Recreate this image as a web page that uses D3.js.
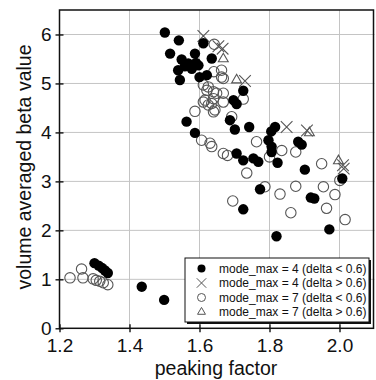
<!DOCTYPE html>
<html><head><meta charset="utf-8">
<script src="https://cdn.jsdelivr.net/npm/d3@7"></script>
<style>body{margin:0;background:#fff}svg{display:block;font-family:"Liberation Sans",Helvetica,Arial,sans-serif}</style>
</head><body><svg id="c" width="376" height="380"></svg>
<script>
const xTicks = [1.2, 1.4, 1.6, 1.8, 2.0];
const yTicks = [0, 1, 2, 3, 4, 5, 6];
const xTickLabels = ["1.2", "1.4", "1.6", "1.8", "2.0"];
const xLabel = "peaking factor";
const yLabel = "volume averaged beta value";
const legendLabels = ["mode_max = 4 (delta < 0.6)", "mode_max = 4 (delta > 0.6)", "mode_max = 7 (delta < 0.6)", "mode_max = 7 (delta > 0.6)"];

// mode_max = 4, delta < 0.6 (filled circles)
const m4Low = [
  [1.501,6.04],[1.541,5.88],[1.516,5.61],[1.549,5.49],[1.539,5.27],[1.544,5.07],[1.568,5.41],[1.587,5.61],
  [1.611,5.82],[1.597,5.37],[1.621,5.17],[1.635,5.51],[1.578,5.30],[1.558,5.35],[1.600,5.13],[1.590,5.42],
  [1.725,4.85],[1.697,4.66],[1.706,4.58],[1.687,4.25],[1.701,4.06],[1.742,4.11],[1.563,4.22],[1.587,3.99],
  [1.706,3.57],[1.725,3.43],[1.754,3.47],[1.768,3.40],
  [1.816,4.11],[1.805,4.02],[1.797,3.84],[1.806,3.71],[1.806,3.60],[1.823,3.38],[1.882,3.81],[1.892,3.75],
  [1.901,3.24],[1.918,2.67],[1.928,2.65],[2.008,3.06],[1.773,2.84],[1.725,2.43],[1.820,1.88],[1.971,2.02],
  [1.300,1.33],[1.312,1.28],[1.322,1.23],[1.330,1.18],[1.338,1.13],[1.435,0.85],[1.499,0.58]
];
// mode_max = 4, delta > 0.6 (crosses)
const m4High = [
  [1.611,5.97],[1.654,5.76],[1.666,5.71],[1.730,5.05],[1.849,4.11],[1.907,4.04],[2.010,3.33],[2.012,3.26]
];
// mode_max = 7, delta < 0.6 (open circles)
const m7Low = [
  [1.642,5.80],[1.663,5.27],[1.663,5.13],[1.641,5.24],[1.625,4.93],[1.640,4.83],[1.668,5.10],[1.611,4.97],
  [1.621,4.86],[1.649,4.80],[1.668,4.80],[1.616,4.66],[1.640,4.69],[1.635,4.59],[1.644,4.46],[1.611,4.62],
  [1.668,4.62],[1.625,4.56],[1.640,4.42],[1.587,4.43],[1.692,4.32],[1.725,4.68],
  [1.606,3.84],[1.630,3.78],[1.635,3.71],[1.668,3.57],[1.680,3.53],[1.735,3.17],[1.763,3.81],[1.800,3.50],
  [1.835,3.63],[1.875,3.60],[1.949,3.36],[1.787,2.89],[1.830,2.74],[1.875,2.90],[1.954,2.89],[1.987,2.73],
  [1.963,2.45],[2.016,2.22],[1.861,2.36],[1.695,2.60],[2.001,3.02],
  [1.230,1.03],[1.263,1.21],[1.267,1.03],[1.296,1.01],[1.305,0.98],[1.315,0.96],[1.325,0.93],[1.338,0.89]
];
// mode_max = 7, delta > 0.6 (triangles)
const m7High = [
  [1.668,5.50],[1.706,5.07],[1.914,3.99],[1.997,3.42]
];

const svg = d3.select("#c");
const x = d3.scaleLinear().domain([1.2, 2.1]).range([59.5, 374.5]);
const y = d3.scaleLinear().domain([0, 6.5]).range([328.3, 10]);
const [x0, x1] = x.range(), [y0, y1] = y.range();

// grid
svg.append("g").selectAll("line").data(xTicks.slice(1)).join("line")
  .attr("x1", d => x(d)).attr("x2", d => x(d)).attr("y1", y0).attr("y2", y1)
  .attr("stroke", "#c4c4c4").attr("stroke-width", 1);
svg.append("g").selectAll("line").data(yTicks.slice(1)).join("line")
  .attr("y1", d => y(d)).attr("y2", d => y(d)).attr("x1", x0).attr("x2", x1)
  .attr("stroke", "#c4c4c4").attr("stroke-width", 1);

// axes
const xAxis = d3.axisBottom(x).tickValues(xTicks).tickFormat((d, i) => xTickLabels[i]).tickSizeInner(4).tickSizeOuter(0).tickPadding(6);
const gx = svg.append("g").attr("transform", `translate(0,${y0})`).call(xAxis);
gx.select(".domain").remove();
gx.selectAll(".tick line").attr("y1", -4).attr("stroke", "#000").attr("stroke-width", 1.3);
gx.selectAll(".tick text").attr("font-size", 19).attr("fill", "#111").attr("font-family", "Liberation Sans, Arial, sans-serif");

const yAxis = d3.axisLeft(y).tickValues(yTicks).tickFormat(d3.format("d")).tickSizeInner(4).tickSizeOuter(0).tickPadding(4);
const gy = svg.append("g").attr("transform", `translate(${x0},0)`).call(yAxis);
gy.select(".domain").remove();
gy.selectAll(".tick line").attr("x1", 4).attr("stroke", "#000").attr("stroke-width", 1.3);
gy.selectAll(".tick text").attr("font-size", 19).attr("fill", "#111").attr("font-family", "Liberation Sans, Arial, sans-serif");

// frame
svg.append("rect").attr("x", x0).attr("y", y1).attr("width", x1 - x0 - 1).attr("height", y0 - y1)
  .attr("fill", "none").attr("stroke", "#111").attr("stroke-width", 1.5);

// labels
svg.append("text").attr("x", 216).attr("y", 375).attr("text-anchor", "middle")
  .attr("font-size", 19.5).attr("fill", "#111").text(xLabel);
svg.append("text").attr("transform", "translate(31,167) rotate(-90)").attr("text-anchor", "middle")
  .attr("font-size", 19.5).attr("fill", "#111").text(yLabel);

const R = 5.2;
const pts = svg.append("g");
pts.selectAll("circle.o").data(m7Low).join("circle").attr("class", "o")
  .attr("cx", d => x(d[0])).attr("cy", d => y(d[1])).attr("r", R)
  .attr("fill", "none").attr("stroke", "#555").attr("stroke-width", 1.1);
const triPath = d3.symbol().type(d3.symbolTriangle2).size(70)();
pts.selectAll("path.t").data(m7High).join("path").attr("class", "t")
  .attr("transform", d => `translate(${x(d[0])},${y(d[1])})`).attr("d", triPath)
  .attr("fill", "none").attr("stroke", "#555").attr("stroke-width", 1.1);
const xPath = d3.symbol().type(d3.symbolX).size(90)();
pts.selectAll("path.x").data(m4High).join("path").attr("class", "x")
  .attr("transform", d => `translate(${x(d[0])},${y(d[1])})`).attr("d", xPath)
  .attr("fill", "none").attr("stroke", "#555").attr("stroke-width", 1.1);
pts.selectAll("circle.f").data(m4Low).join("circle").attr("class", "f")
  .attr("cx", d => x(d[0])).attr("cy", d => y(d[1])).attr("r", R)
  .attr("fill", "#000");

// legend
const lg = svg.append("g");
lg.append("rect").attr("x", 187).attr("y", 260).attr("width", 184).attr("height", 64).attr("fill", "#111");
lg.append("rect").attr("x", 185).attr("y", 258).attr("width", 184).attr("height", 64)
  .attr("fill", "#fff").attr("stroke", "#111").attr("stroke-width", 1);
const rowsY = [268.5, 283, 297.5, 312];
legendLabels.forEach((t, i) => {
  lg.append("text").attr("x", 219).attr("y", rowsY[i] + 4.3).attr("font-size", 12).attr("fill", "#111").text(t);
});
const sx = 201.5;
lg.append("circle").attr("cx", sx).attr("cy", rowsY[0]).attr("r", 4).attr("fill", "#000");
lg.append("path").attr("transform", `translate(${sx},${rowsY[1]})`).attr("d", d3.symbol().type(d3.symbolX).size(60)())
  .attr("fill", "none").attr("stroke", "#555").attr("stroke-width", 1);
lg.append("circle").attr("cx", sx).attr("cy", rowsY[2]).attr("r", 4).attr("fill", "none").attr("stroke", "#555").attr("stroke-width", 1);
lg.append("path").attr("transform", `translate(${sx},${rowsY[3]})`).attr("d", d3.symbol().type(d3.symbolTriangle2).size(45)())
  .attr("fill", "none").attr("stroke", "#555").attr("stroke-width", 1);
</script></body></html>
